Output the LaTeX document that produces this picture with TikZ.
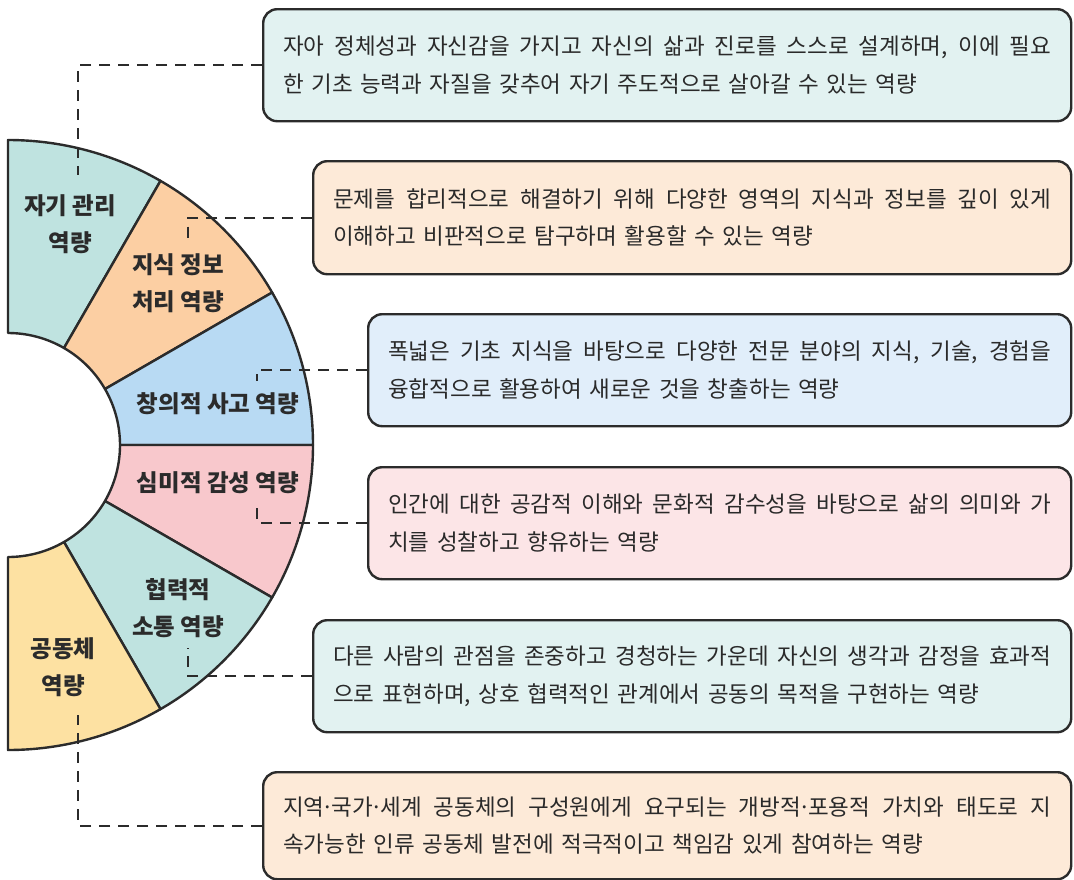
\documentclass[tikz,border=0pt]{standalone}
\usepackage{fontspec}
\usetikzlibrary{calc}
\setmainfont{Noto Sans CJK KR}
\setlength{\parindent}{0pt}
\definecolor{segTeal}{HTML}{BFE3E0}
\definecolor{segPeach}{HTML}{FCCFA3}
\definecolor{segBlue}{HTML}{B8DAF3}
\definecolor{segPink}{HTML}{F8C8CC}
\definecolor{segYellow}{HTML}{FDE1A2}
\definecolor{boxTeal}{HTML}{E2F2F1}
\definecolor{boxPeach}{HTML}{FDEAD8}
\definecolor{boxBlue}{HTML}{E1EEFA}
\definecolor{boxPink}{HTML}{FCE5E7}
\definecolor{lineC}{HTML}{2B2B2B}
\definecolor{txtC}{HTML}{2A2A2A}
\newcommand{\jline}[2]{\makebox[#1][s]{\spaceskip=0.25em plus 3em\relax #2}}
\newcommand{\mdot}{\makebox[0.32em][c]{·}}
\begin{document}
\begin{tikzpicture}[x=1pt,y=-1pt,
  segline/.style={draw=lineC, line width=2.4pt, line join=round},
  desc/.style={draw=lineC, line width=2.4pt, rounded corners=14pt, anchor=north west,
    inner xsep=20pt, inner ysep=0pt, minimum height=112pt, align=left, text=txtC,
    font=\fontsize{22.5}{37.5}\selectfont},
  seglabel/.style={align=center, text=lineC, font=\bfseries\fontsize{23.5}{37.5}\selectfont},
  dashline/.style={draw=lineC, line width=2.2pt, dash pattern=on 11pt off 8pt}]
\useasboundingbox (0,0) rectangle (1074,879);
\fill[white] (0,0) rectangle (1074,879);
\coordinate (C) at (8,445);
% ring segments
\foreach \a/\b/\col in {-90/-60/segTeal,-60/-30/segPeach,-30/0/segBlue,0/30/segPink,30/60/segTeal,60/90/segYellow}{
  \path[segline, fill=\col] ($(C)+(\a:112)$) -- ($(C)+(\a:305)$) arc[start angle=\a, end angle=\b, radius=305]
    -- ($(C)+(\b:112)$) arc[start angle=\b, end angle=\a, radius=112] -- cycle;
}
% segment labels
\node[seglabel] (s1) at (70,224) {자기 관리\\역량};
\node[seglabel] (s2) at (178,283) {지식 정보\\처리 역량};
\node[seglabel] (s3) at (218,404) {창의적 사고 역량};
\node[seglabel] (s4) at (218,483) {심미적 감성 역량};
\node[seglabel] (s5) at (178,608) {협력적\\소통 역량};
\node[seglabel] (s6) at (63,667) {공동체\\역량};
% description boxes
\node[desc, fill=boxTeal, text width=768pt] (b1) at (262,8)
  {\jline{768pt}{자아 정체성과 자신감을 가지고 자신의 삶과 진로를 스스로 설계하며, 이에 필요}\\한 기초 능력과 자질을 갖추어 자기 주도적으로 살아갈 수 있는 역량};
\node[desc, fill=boxPeach, text width=718pt, minimum height=113pt] (b2) at (312,160)
  {\jline{718pt}{문제를 합리적으로 해결하기 위해 다양한 영역의 지식과 정보를 깊이 있게}\\이해하고 비판적으로 탐구하며 활용할 수 있는 역량};
\node[desc, fill=boxBlue, text width=663pt] (b3) at (367,313)
  {\jline{663pt}{폭넓은 기초 지식을 바탕으로 다양한 전문 분야의 지식, 기술, 경험을}\\융합적으로 활용하여 새로운 것을 창출하는 역량};
\node[desc, fill=boxPink, text width=663pt] (b4) at (367,466)
  {\jline{663pt}{인간에 대한 공감적 이해와 문화적 감수성을 바탕으로 삶의 의미와 가}\\치를 성찰하고 향유하는 역량};
\node[desc, fill=boxTeal, text width=718pt] (b5) at (312,619)
  {\jline{718pt}{다른 사람의 관점을 존중하고 경청하는 가운데 자신의 생각과 감정을 효과적}\\으로 표현하며, 상호 협력적인 관계에서 공동의 목적을 구현하는 역량};
\node[desc, fill=boxPeach, text width=768pt, minimum height=107pt] (b6) at (262,771)
  {\jline{768pt}{지역\mdot 국가\mdot 세계 공동체의 구성원에게 요구되는 개방적\mdot 포용적 가치와 태도로 지}\\속가능한 인류 공동체 발전에 적극적이고 책임감 있게 참여하는 역량};
% connector ends
\coordinate (e1) at (78,175);
\coordinate (e2) at (188,240);
\coordinate (e3) at (257,381);
\coordinate (e4) at (257,508);
\coordinate (e5) at (188,648);
\coordinate (e6) at (78,715);
\draw[dashline] (b1.west) -| (e1);
\draw[dashline] (b2.west) -| (e2);
\draw[dashline] (b3.west) -| (e3);
\draw[dashline] (b4.west) -| (e4);
\draw[dashline] (b5.west) -| (e5);
\draw[dashline] (b6.west) -| (e6);
\end{tikzpicture}
\end{document}
